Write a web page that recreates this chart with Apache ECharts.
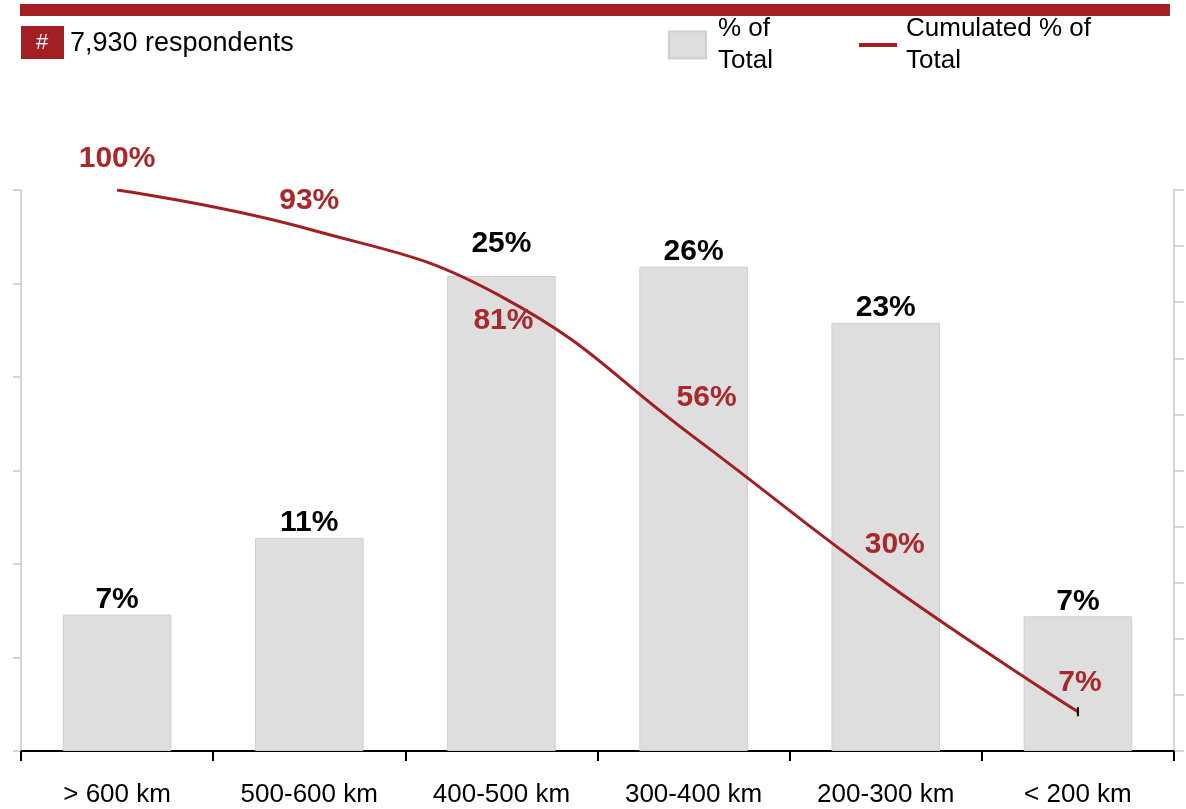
<!DOCTYPE html>
<html>
<head>
<meta charset="utf-8">
<script src="https://cdn.jsdelivr.net/npm/echarts@6/dist/echarts.min.js"></script>
<style>
  html, body { margin: 0; padding: 0; background: #fff; }
  #chart { width: 1186px; height: 809px; }
</style>
</head>
<body>
<div id="chart"></div>
<script>
// Distance bands, from longest to shortest
const categories = ['> 600 km', '500-600 km', '400-500 km', '300-400 km', '200-300 km', '< 200 km'];
// Share of respondents per band (%)
const shareOfTotal = [7.3, 11.4, 25.4, 25.9, 22.9, 7.2];
// Cumulated share, accumulated from the shortest band upward (%)
const cumulatedShare = [100, 93, 81, 56, 30, 7];
// Label offsets [dx, dy]
const lineLabelOffsets = [[0, -31], [0, -29], [2, 24], [13, -39], [9, -38], [2, -29]];
const barLabelOffsets = [[0, 0], [0, 0], [0, -17], [0, 0], [0, 0], [0, 0]];
const respondents = '7,930 respondents';

const RED = '#a31f23';
const LABEL_RED = '#a8282c';
const FONT = '"Liberation Sans", Arial, sans-serif';

const barData = shareOfTotal.map((v, i) => ({ value: v, label: { offset: barLabelOffsets[i] } }));

const lineData = cumulatedShare.map((v, i) => {
  const last = i === cumulatedShare.length - 1;
  return {
    value: v,
    symbol: last ? 'rect' : 'circle',
    symbolSize: last ? [2, 9] : 1,
    itemStyle: { color: last ? '#000' : 'rgba(0,0,0,0)' },
    label: { offset: lineLabelOffsets[i] }
  };
});

const legendText = { fontSize: 26, color: '#000', lineHeight: 32, fontFamily: FONT };

const chart = echarts.init(document.getElementById('chart'), null, { renderer: 'canvas' });
chart.setOption({
  animation: false,
  textStyle: { fontFamily: FONT },
  grid: { left: 21, right: 12, top: 190, bottom: 58, containLabel: false },
  legend: [
    {
      data: [{ name: '% of Total', icon: 'rect' }],
      left: 663, top: 8, itemWidth: 37, itemHeight: 27,
      formatter: () => '% of\nTotal',
      textStyle: Object.assign({ padding: [0, 0, 0, 7] }, legendText),
      selectedMode: false
    },
    {
      data: [{ name: 'Cumulated % of Total', icon: 'rect' }],
      left: 854, top: 8, itemWidth: 38, itemHeight: 4,
      formatter: () => 'Cumulated % of\nTotal',
      textStyle: Object.assign({ padding: [0, 0, 0, 4] }, legendText),
      itemStyle: { color: RED },
      selectedMode: false
    }
  ],
  xAxis: {
    type: 'category',
    data: categories,
    axisLine: { lineStyle: { color: '#000', width: 2 } },
    axisTick: { show: true, length: 10, lineStyle: { color: '#000', width: 2 } },
    axisLabel: { fontSize: 26, color: '#000', margin: 31, fontFamily: FONT },
    splitLine: { show: false }
  },
  yAxis: [
    {
      type: 'value', min: 0, max: 30, interval: 5, position: 'left',
      axisLine: { show: true, lineStyle: { color: '#c8c8c8', width: 1.5 } },
      axisTick: { show: true, length: 8, lineStyle: { color: '#c8c8c8', width: 1.5 } },
      axisLabel: { show: false },
      splitLine: { show: false }
    },
    {
      type: 'value', min: 0, max: 100, interval: 10, position: 'right',
      axisLine: { show: true, lineStyle: { color: '#c8c8c8', width: 1.5 } },
      axisTick: { show: true, length: 10, lineStyle: { color: '#c8c8c8', width: 1.5 } },
      axisLabel: { show: false },
      splitLine: { show: false }
    }
  ],
  series: [
    {
      name: '% of Total',
      type: 'bar',
      yAxisIndex: 0,
      data: barData,
      barWidth: '56.5%',
      itemStyle: { color: '#dedede', borderColor: '#cfcfcf', borderWidth: 1 },
      label: {
        show: true, position: 'top', distance: 0,
        fontSize: 30, fontWeight: 'bold', color: '#000', fontFamily: FONT,
        formatter: p => Math.round(p.value) + '%'
      },
      z: 2
    },
    {
      name: 'Cumulated % of Total',
      type: 'line',
      yAxisIndex: 1,
      data: lineData,
      smooth: 0.45,
      lineStyle: { color: RED, width: 3 },
      itemStyle: { color: RED },
      label: {
        show: true, position: 'inside',
        fontSize: 30, fontWeight: 'bold', color: LABEL_RED, fontFamily: FONT,
        formatter: p => p.value + '%'
      },
      z: 3
    }
  ],
  graphic: [
    { type: 'rect', shape: { x: 20, y: 4, width: 1150, height: 12 }, style: { fill: RED } },
    { type: 'rect', shape: { x: 21, y: 26, width: 43, height: 33 }, style: { fill: RED } },
    { type: 'text', x: 42, y: 43, style: { text: '#', fill: '#fff', font: '22px ' + FONT, textAlign: 'center', textVerticalAlign: 'middle' } },
    { type: 'text', x: 70, y: 44, style: { text: respondents, fill: '#000', font: '27px ' + FONT, textAlign: 'left', textVerticalAlign: 'middle' } }
  ]
});
</script>
</body>
</html>
